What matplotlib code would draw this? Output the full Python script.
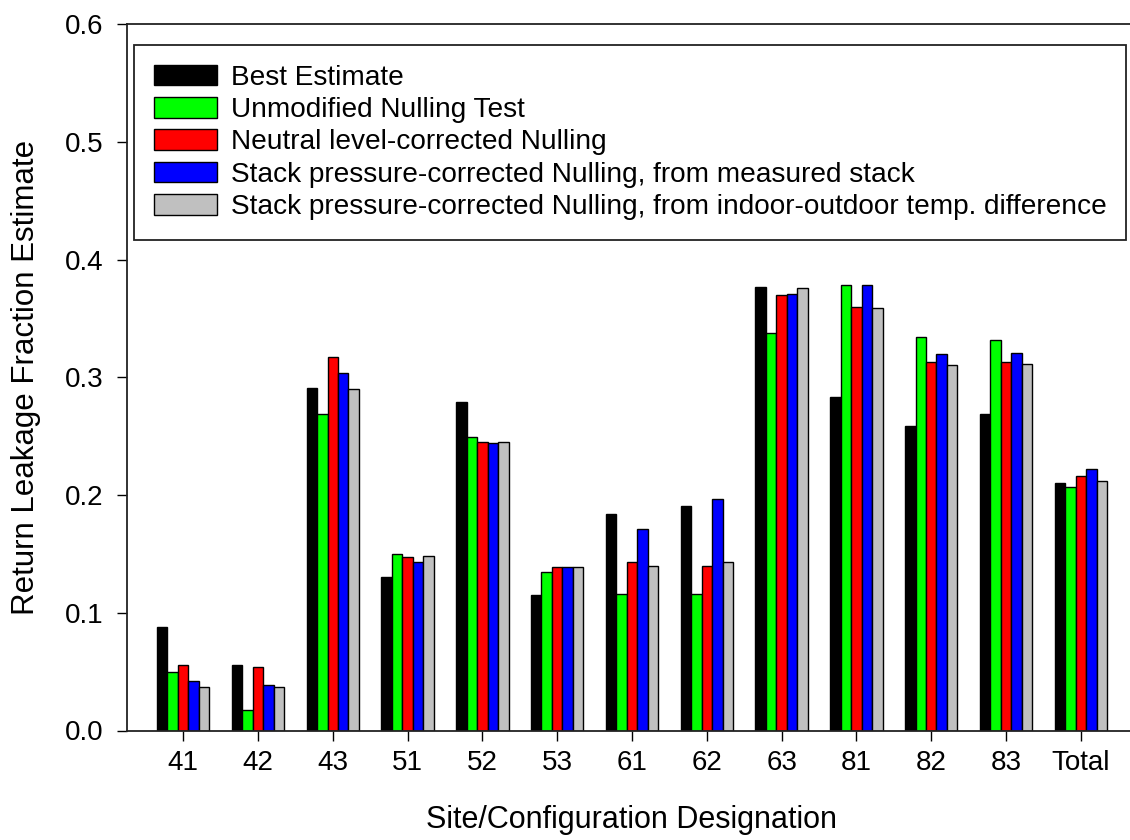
"""Return leakage fraction estimates by site/configuration, grouped bars."""

import matplotlib.pyplot as plt
import numpy as np

plt.rcParams["font.family"] = ["Liberation Sans", "DejaVu Sans"]

sites = ["41", "42", "43", "51", "52", "53", "61", "62", "63", "81", "82", "83", "Total"]

best_estimate = [0.088, 0.056, 0.291, 0.130, 0.279, 0.115, 0.184, 0.191, 0.377, 0.283, 0.259, 0.269, 0.210]
unmodified = [0.050, 0.017, 0.269, 0.150, 0.249, 0.135, 0.116, 0.116, 0.338, 0.378, 0.334, 0.332, 0.207]
neutral_level = [0.056, 0.054, 0.317, 0.147, 0.245, 0.139, 0.143, 0.140, 0.370, 0.360, 0.313, 0.313, 0.216]
stack_measured = [0.042, 0.039, 0.304, 0.143, 0.244, 0.139, 0.171, 0.197, 0.371, 0.378, 0.320, 0.321, 0.222]
stack_temp = [0.037, 0.037, 0.290, 0.148, 0.245, 0.139, 0.140, 0.143, 0.376, 0.359, 0.310, 0.311, 0.212]

series = [
    ("Best Estimate", best_estimate, "#000000"),
    ("Unmodified Nulling Test", unmodified, "#00ff00"),
    ("Neutral level-corrected Nulling", neutral_level, "#ff0000"),
    ("Stack pressure-corrected Nulling, from measured stack", stack_measured, "#0000ff"),
    ("Stack pressure-corrected Nulling, from indoor-outdoor temp. difference", stack_temp, "#c0c0c0"),
]


def main():
    fig = plt.figure(figsize=(11.3, 8.4), dpi=100)
    W, H = 1130, 840
    left, right, bottom, top = 127, 1137, 730.5, 24
    ax = fig.add_axes([left / W, 1 - bottom / H, (right - left) / W, (bottom - top) / H])

    x = np.arange(len(sites))
    width = 0.14
    for i, (label, vals, color) in enumerate(series):
        ax.bar(x + (i - 2) * width, vals, width, color=color, edgecolor="black",
               linewidth=1.0, label=label)

    ax.set_xlim(-0.75, 12.75)
    ax.set_ylim(0, 0.6)
    ax.set_yticks(np.arange(0, 0.61, 0.1))
    ax.set_yticklabels([f"{v:.1f}" for v in np.arange(0, 0.61, 0.1)])
    ax.set_xticks(x)
    ax.set_xticklabels(sites)
    ax.tick_params(axis="both", direction="out", length=7, width=1, labelsize=20)
    ax.tick_params(axis="x", pad=7)
    ax.tick_params(axis="y", pad=10)
    for side in ["left", "bottom", "top"]:
        ax.spines[side].set_linewidth(1.3)
        ax.spines[side].set_color("#222222")
    ax.spines["right"].set_visible(False)

    ax.set_xlabel("Site/Configuration Designation", fontsize=22, labelpad=21)
    ax.set_ylabel("Return Leakage Fraction Estimate", fontsize=22.5, labelpad=17)

    leg = ax.legend(loc="upper left", bbox_to_anchor=(134 / W, 1 - 45 / H),
                    bbox_transform=fig.transFigure, borderaxespad=0, fontsize=20.2,
                    frameon=True, fancybox=False, framealpha=1, edgecolor="#222222",
                    handlelength=2.27, handleheight=0.76, handletextpad=0.47,
                    labelspacing=0.22, borderpad=0.7)
    leg.get_frame().set_linewidth(1.3)

    fig.savefig("out.png", dpi=100)


if __name__ == "__main__":
    main()
